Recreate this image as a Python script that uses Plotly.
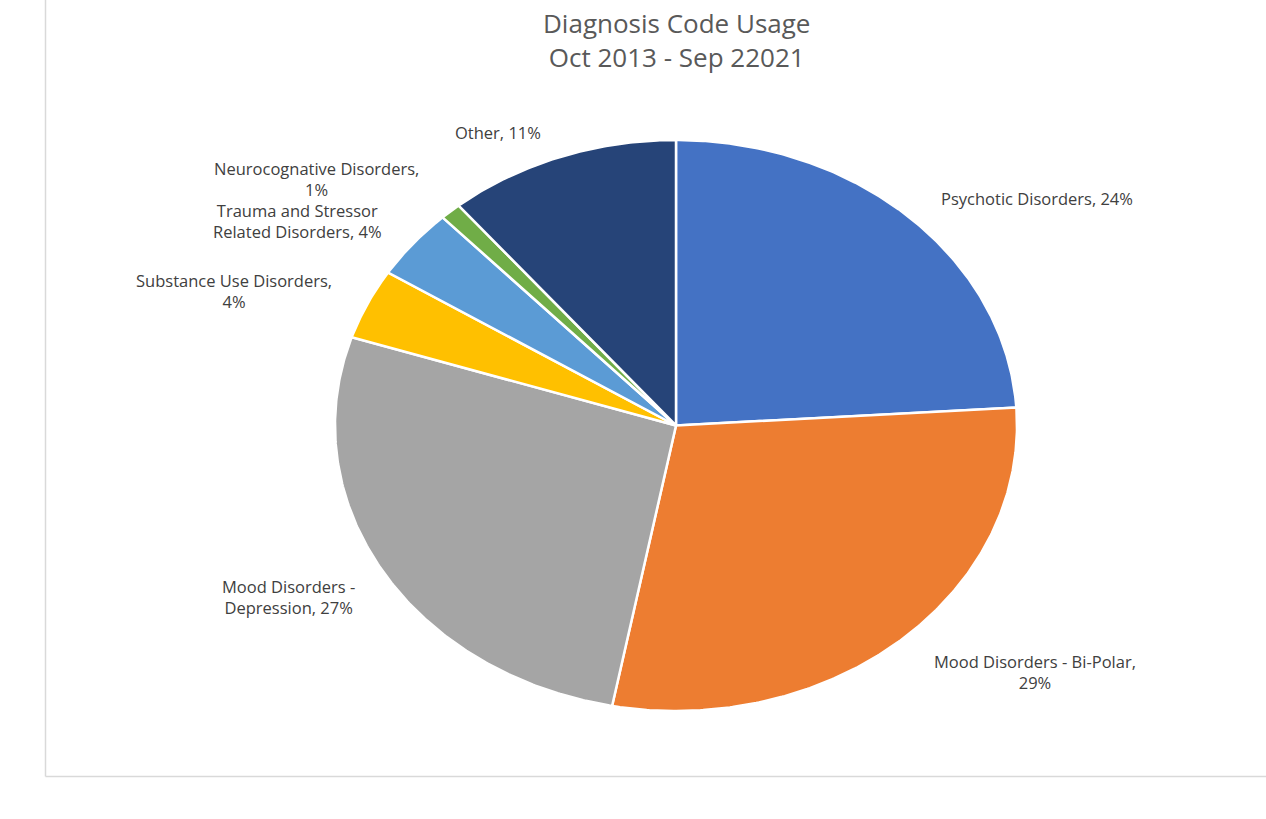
import numpy as np
import plotly.graph_objects as go

# Diagnosis categories and their share of code usage (%)
categories = [
    "Psychotic Disorders",
    "Mood Disorders - Bi-Polar",
    "Mood Disorders - Depression",
    "Substance Use Disorders",
    "Trauma and Stressor Related Disorders",
    "Neurocognative Disorders",
    "Other",
]
shares = [24, 29, 27, 4, 4, 1, 11]
colors = ["#4472C4", "#ED7D31", "#A5A5A5", "#FFC000", "#5B9BD5", "#70AD47", "#264478"]

# Data-label text (wrapped) and label centres in canvas coordinates
label_text = [
    "Psychotic Disorders, 24%",
    "Mood Disorders - Bi-Polar,<br>29%",
    "Mood Disorders -<br>Depression, 27%",
    "Substance Use Disorders,<br>4%",
    "Trauma and Stressor<br>Related Disorders, 4%",
    "Neurocognative Disorders,<br>1%",
    "Other, 11%",
]
label_pos = [(1037, 198), (1035, 672), (288, 597), (234, 291), (297, 221), (316, 179), (498, 132)]

W, H = 1266, 819
CX, CY, RX, RY = 676, 425.5, 341, 285.5

fig = go.Figure()

total = sum(shares)
start = 0.0
for name, val, col in zip(categories, shares, colors):
    end = start + val / total * 2 * np.pi
    th = np.linspace(start, end, max(int(val * 8), 12))
    xs = np.concatenate([[CX], CX + RX * np.sin(th), [CX]])
    ys = np.concatenate([[CY], CY - RY * np.cos(th), [CY]])
    fig.add_trace(go.Scatter(
        x=xs, y=ys, mode="lines", fill="toself", fillcolor=col,
        line=dict(color="white", width=2.5), name=name,
        hoverinfo="text", text=f"{name}: {val}%", showlegend=False,
    ))
    start = end

for txt, (lx, ly) in zip(label_text, label_pos):
    fig.add_annotation(x=lx, y=ly, text=txt, showarrow=False, xanchor="center",
                       yanchor="middle", align="center", borderpad=0,
                       font=dict(family="Open Sans", size=16.5, color="#404040"))

# Chart title
fig.add_annotation(x=CX, y=40, text="Diagnosis Code Usage<br>Oct 2013 - Sep 22021",
                   showarrow=False, xanchor="center", yanchor="middle", align="center",
                   borderpad=0, font=dict(family="Open Sans", size=26, color="#595959"))

# Chart-area frame (left and bottom edges)
fig.add_shape(type="line", x0=45.5, x1=45.5, y0=0, y1=776.5,
              line=dict(color="#D9D9D9", width=1.5))
fig.add_shape(type="line", x0=45.5, x1=W, y0=776.5, y1=776.5,
              line=dict(color="#D9D9D9", width=1.5))

fig.update_layout(
    width=W, height=H, margin=dict(l=0, r=0, t=0, b=0),
    paper_bgcolor="white", plot_bgcolor="white",
    xaxis=dict(range=[0, W], visible=False, fixedrange=True),
    yaxis=dict(range=[H, 0], visible=False, fixedrange=True),
)

fig.write_html("out.html")
